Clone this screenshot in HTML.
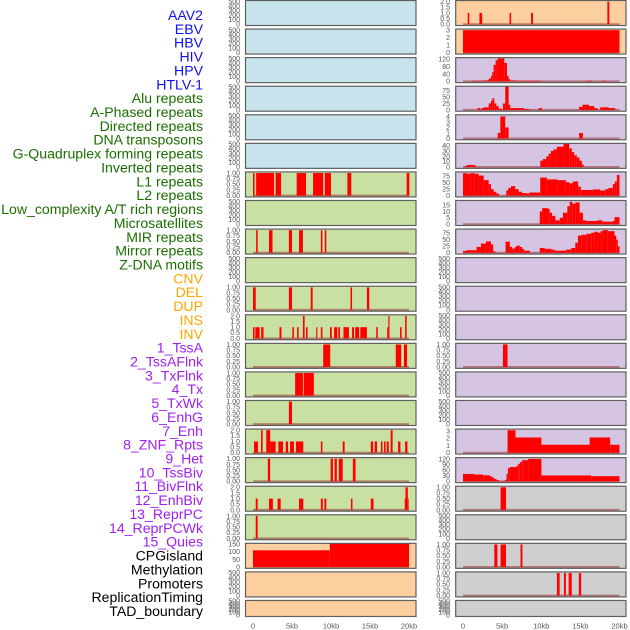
<!DOCTYPE html>
<html><head><meta charset="utf-8"><style>
html,body{margin:0;padding:0;background:#fff;}
svg{display:block;font-family:"Liberation Sans",sans-serif;}
</style></head><body>
<svg id="chart" width="630" height="630" viewBox="0 0 630 630" xmlns="http://www.w3.org/2000/svg"></svg>
<script>
const trackLabels = ["AAV2","EBV","HBV","HIV","HPV","HTLV-1","Alu repeats","A-Phased repeats","Directed repeats","DNA transposons","G-Quadruplex forming repeats","Inverted repeats","L1 repeats","L2 repeats","Low_complexity A/T rich regions","Microsatellites","MIR repeats","Mirror repeats","Z-DNA motifs","CNV","DEL","DUP","INS","INV","1_TssA","2_TssAFlnk","3_TxFlnk","4_Tx","5_TxWk","6_EnhG","7_Enh","8_ZNF_Rpts","9_Het","10_TssBiv","11_BivFlnk","12_EnhBiv","13_ReprPC","14_ReprPCWk","15_Quies","CPGisland","Methylation","Promoters","ReplicationTiming","TAD_boundary"];
const labelGroups = [6,13,5,15,5];
const groupColors = ["#1010f0","#1a6e00","#ffa500","#a020f0","#000000"];
const xTickLabels = ["0","5kb","10kb","15kb","20kb"];
const xTickValues = [0,5,10,15,20];

const ticksEmpty = ["0","100","200","300","400","500"], ticksEmptyVals=[0,100,200,300,400,500];
const ticksBin = ["0.00","0.25","0.50","0.75","1.00"], ticksBinVals=[0,0.25,0.5,0.75,1];
const ticksTwo = ["0.0","0.5","1.0","1.5","2.0"], ticksTwoVals=[0,0.5,1,1.5,2];

const leftL1 = [[0,0.2,1],[0.4,2.7,1],[2.9,3.6,1],[5.6,6.8,1],[7.7,9.0,1],[9.2,10.0,1],[12.1,12.6,1],[19.7,20.05,1]];
const leftR9 = [[0.4,0.6,1],[2.05,2.5,1],[4.6,5.0,1],[5.9,6.4,1],[8.7,8.9,1],[9.2,9.4,1]];
const leftR11 = [[0,0.35,1],[4.6,5.0,1],[7.4,7.65,1],[12.5,12.7,1],[14.6,14.9,1]];
const leftINS = [[0,0.2,1],[0.3,0.85,1],[1.05,1.35,1],[3.4,3.65,1],[5.05,5.25,1],[5.65,5.85,1],[6.4,6.62,2],[6.8,7.0,1],[8.1,8.25,1],[8.7,8.9,1],[9.87,10.1,1],[10.4,10.8,1],[10.94,11.15,1],[11.6,12.3,1],[12.7,12.95,1],[13.1,13.6,1],[13.76,14.6,1],[15.8,16.0,1],[17.2,17.35,1],[17.35,17.5,2],[18.85,19.05,1],[19.5,19.7,2]];
const leftR13 = [[9.0,9.9,1],[18.3,19.0,1],[19.35,19.75,1]];
const leftR14 = [[5.4,6.4,1],[6.5,7.8,1]];
const leftR15 = [[4.6,5.0,1]];
const leftR16 = [[0.13,0.64,1],[1.03,1.24,2],[1.7,2.2,2],[2.2,2.9,1],[3.25,3.85,1],[4.2,4.5,1],[4.75,5.25,1],[5.5,6.45,1],[8.7,8.9,1],[11.5,11.75,1],[15.1,15.4,1],[15.6,15.9,1],[16.4,16.6,1],[16.8,17.0,1],[17.15,17.4,1],[17.65,17.9,2],[18.6,18.9,1],[19.5,19.8,1]];
const leftR17 = [[1.9,2.2,1],[9.95,10.25,1],[10.45,10.75,1],[11.0,11.5,1],[12.8,13.15,1]];
const leftR18 = [[0.35,0.6,1],[2.05,2.55,1],[3.15,3.55,1],[5.9,6.45,1],[8.7,8.95,1],[9.15,9.4,1],[12.55,12.75,1],[15.1,15.45,1],[19.45,19.55,1],[19.55,19.85,2],[19.85,19.95,1]];
const leftR19 = [[0.35,0.6,1]];
const leftCPG = [[0,9.85,110],[9.85,20,155]];

const rightR0 = [[0.6,0.8,1],[2.1,2.45,1],[5.95,6.15,1],[8.7,8.95,1],[18.45,18.7,2]];
const rightR1 = [[0,20,3]];
const rightR2 = [[1.15,2.64,3],[2.64,3.28,5],[3.28,3.57,15],[3.57,3.74,30],[3.74,3.91,50],[3.91,4.17,90],[4.17,4.43,115],[4.43,5.28,125],[5.28,5.62,100],[5.62,5.83,30],[5.83,6.04,12],[6.04,6.8,5],[6.9,9.96,3],[15.8,16.5,3],[17.7,18.25,3]];
const rightR3 = [[1.87,2.21,7],[2.34,2.64,7],[2.64,3.28,10],[3.28,3.57,25],[3.57,3.74,35],[3.74,4.0,45],[4.0,4.26,25],[4.26,4.55,15],[4.55,4.98,5],[5.1,5.4,25],[5.4,5.83,92],[5.83,6.04,20],[6.04,7.83,7],[7.83,8.51,3],[9.66,10.09,7],[14.85,15.28,12],[15.28,16.13,20],[16.13,16.77,15],[16.77,17.19,7],[17.53,18.6,10],[18.6,19.45,7]];
const rightR4 = [[4.43,4.77,1],[4.77,5.4,4],[5.4,5.83,2],[14.85,15.32,1]];
const rightR5 = [[0.21,0.51,2],[0.51,1.36,4],[1.36,1.66,3],[9.87,10.21,12],[10.21,10.64,15],[10.64,10.94,20],[10.94,11.23,25],[11.23,11.57,30],[11.57,12.0,33],[12.0,12.85,38],[12.85,13.57,43],[13.57,13.91,35],[13.91,14.21,28],[14.21,14.55,22],[14.55,14.89,18],[14.89,15.19,12],[15.19,15.4,5]];
const rightR6 = [[0,0.51,87],[0.51,0.94,85],[0.94,1.45,87],[1.45,2.0,85],[2.0,2.64,78],[2.64,3.28,60],[3.28,3.57,45],[3.57,3.91,25],[3.91,4.26,15],[4.26,4.6,8],[5.53,5.79,20],[5.79,6.13,30],[6.13,6.68,37],[6.68,7.11,25],[7.11,7.53,15],[7.53,8.17,10],[8.17,8.47,8],[8.47,9.87,12],[9.87,10.72,70],[10.72,12.09,63],[12.09,13.15,60],[13.15,13.57,52],[13.57,14.04,48],[14.04,14.72,55],[14.72,15.06,35],[15.06,16.6,22],[16.6,17.53,24],[17.53,18.17,20],[18.17,18.6,25],[18.6,19.15,30],[19.15,19.4,45],[19.4,19.66,55],[19.66,20,80]];
const rightR7 = [[9.81,10.11,10],[10.11,10.87,12.5],[10.87,11.08,12],[11.08,11.38,9],[11.38,11.8,6.5],[11.8,12.36,3],[12.36,12.78,5],[12.78,13.33,9],[13.33,13.63,14],[13.63,13.97,17.5],[13.97,14.35,16],[14.35,14.9,17],[14.9,15.33,9],[15.33,15.75,3],[15.75,17.15,2.5],[17.15,17.79,3],[17.79,19.15,2],[19.15,19.36,2.5],[19.36,20,5.5]];
const rightR8 = [[0,0.47,7],[0.47,1.1,10],[1.1,1.74,10],[1.74,2.29,22],[2.29,2.93,35],[2.93,3.57,43],[3.57,3.86,32],[3.86,4.16,5],[5.44,5.99,42],[5.99,6.28,22],[6.28,6.62,16],[6.62,6.84,22],[6.84,7.26,27],[7.26,7.56,22],[7.56,7.81,15],[7.81,8.53,8],[9.81,10.45,18],[10.45,11.3,15],[11.3,11.72,12],[11.72,13.21,8],[13.21,13.84,12],[13.84,14.35,18],[14.35,14.69,38],[14.69,15.12,65],[15.12,15.75,68],[15.75,16.39,72],[16.39,16.82,76],[16.82,17.24,80],[17.24,17.58,76],[17.58,17.88,82],[17.88,18.51,86],[18.51,19.36,82],[19.36,19.58,65],[19.58,19.79,50],[19.79,20,25]];
const rightR12 = [[5.1,5.69,1]];
const rightR15 = [[5.69,6.71,3.1],[6.71,10.02,2.1],[10.02,16.18,1.1],[16.18,18.81,2.1],[18.81,20,1.1]];
const rightR16 = [[0,1.4,40],[1.4,2.59,37],[2.59,3.44,33],[3.44,3.74,27],[3.74,3.99,20],[3.99,4.29,13],[4.29,4.59,7],[4.59,5.35,1],[5.35,5.56,8],[5.56,5.73,40],[5.73,5.99,72],[5.99,6.84,78],[6.84,7.05,85],[7.05,7.26,95],[7.26,7.56,105],[7.56,8.32,115],[8.32,10.02,122],[10.02,16.39,32],[16.39,20,28]];
const rightR17 = [[4.8,5.5,1]];
const rightR19 = [[4.0,4.4,1],[4.8,5.5,1],[7.35,7.6,1]];
const rightR20 = [[12.0,12.35,1],[12.9,13.15,1],[13.5,13.9,1],[14.8,15.1,1]];

const BLUE="#c7e4ec", GREEN="#c8e1a2", ORANGE="#fecf9e", PURPLE="#d5c5e3", GRAY="#cfcfcf";
const E=[ticksEmpty,ticksEmptyVals,520], B=[ticksBin,ticksBinVals,1.05], T=[ticksTwo,ticksTwoVals,2.1];
const leftPanels = [
 [BLUE,E,null],[BLUE,E,null],[BLUE,E,null],[BLUE,E,null],[BLUE,E,null],[BLUE,E,null],
 [GREEN,B,leftL1],[GREEN,E,null],[GREEN,B,leftR9],[GREEN,E,null],[GREEN,B,leftR11],[GREEN,T,leftINS],
 [GREEN,B,leftR13],[GREEN,B,leftR14],[GREEN,B,leftR15],[GREEN,T,leftR16],[GREEN,B,leftR17],[GREEN,T,leftR18],
 [GREEN,B,leftR19],[ORANGE,[["0","50","100","150"],[0,50,100,150],156],leftCPG],[ORANGE,E,null],[ORANGE,E,null]];
const rightPanels = [
 [ORANGE,T,rightR0],[ORANGE,[["0","1","2","3"],[0,1,2,3],3.15],rightR1],
 [PURPLE,[["0","40","80","120"],[0,40,80,120],129],rightR2],
 [PURPLE,[["0","25","50","75"],[0,25,50,75],92],rightR3],
 [PURPLE,[["0","1","2","3","4"],[0,1,2,3,4],4.3],rightR4],
 [PURPLE,[["0","10","20","30","40"],[0,10,20,30,40],44.3],rightR5],
 [PURPLE,[["0","25","50","75"],[0,25,50,75],92],rightR6],
 [PURPLE,[["0","5","10","15"],[0,5,10,15],18.5],rightR7],
 [PURPLE,[["0","25","50","75"],[0,25,50,75],90],rightR8],
 [PURPLE,E,null],[PURPLE,E,null],[PURPLE,E,null],[PURPLE,B,rightR12],[PURPLE,E,null],[PURPLE,E,null],
 [PURPLE,[["0","1","2","3"],[0,1,2,3],3.26],rightR15],
 [PURPLE,[["0","30","60","90","120"],[0,30,60,90,120],129],rightR16],
 [GRAY,B,rightR17],[GRAY,E,null],[GRAY,B,rightR19],[GRAY,B,rightR20],[GRAY,E,null]];

const NS="http://www.w3.org/2000/svg";
const svg=document.getElementById('chart');
function mk(tag,attrs,parent){const e=document.createElementNS(NS,tag);for(const k in attrs)e.setAttribute(k,attrs[k]);(parent||svg).appendChild(e);return e;}

let li=0;
labelGroups.forEach((n,g)=>{for(let k=0;k<n;k++){const t=mk('text',{x:203,y:15+li*13.86+5,'text-anchor':'end','font-size':'14.1',fill:groupColors[g]});t.textContent=trackLabels[li];


li++;}});

const cols=[{x0:245.5,x1:416,d0:253,d1:409,tx:240,panels:leftPanels,name:'left'},{x0:455.7,x1:626,d0:463,d1:619.5,tx:450,panels:rightPanels,name:'right'}];
cols.forEach(c=>{
 const xs=kb=>c.d0+(c.d1-c.d0)*kb/20;
 c.panels.forEach((p,i)=>{
  const top=i*28.57+0.5, h=(i===21)?16:25, bot=top+h;
  const ys=v=>(bot-1.3)-(bot-1.3-top)*v/p[1][2];
  const g=mk('g',{});
  
  
  const bg=mk('rect',{x:c.x0,y:top,width:c.x1-c.x0,height:h,fill:p[0]},g);
  
  
  if(p[2]){
   const bl=mk('line',{x1:xs(0),x2:xs(20),y1:bot-1.3,y2:bot-1.3,stroke:'rgba(150,50,50,0.55)','stroke-width':2},g);
   
   
   p[2].forEach(d=>{const r=mk('rect',{x:xs(d[0]),y:ys(d[2]),width:Math.max(0.8,xs(d[1])-xs(d[0])),height:(bot-1.3)-ys(d[2]),fill:'#ff0000'},g);
    
    });
  }
  const fr=mk('rect',{x:c.x0,y:top,width:c.x1-c.x0,height:h,fill:'none',stroke:'#5f5f5f','stroke-width':1.2},g);
  
  
  p[1][0].forEach((lab,k)=>{const t=mk('text',{x:c.tx,y:ys(p[1][1][k])+2.4,'text-anchor':'end','font-size':'7',fill:'#555'},g);t.textContent=lab;
   
   });
 });
 xTickValues.forEach((v,k)=>{const t=mk('text',{x:xs(v),y:628.5,'text-anchor':'middle','font-size':'7.5',fill:'#555'});t.textContent=xTickLabels[k];
  
  });
});
</script>
</body></html>
